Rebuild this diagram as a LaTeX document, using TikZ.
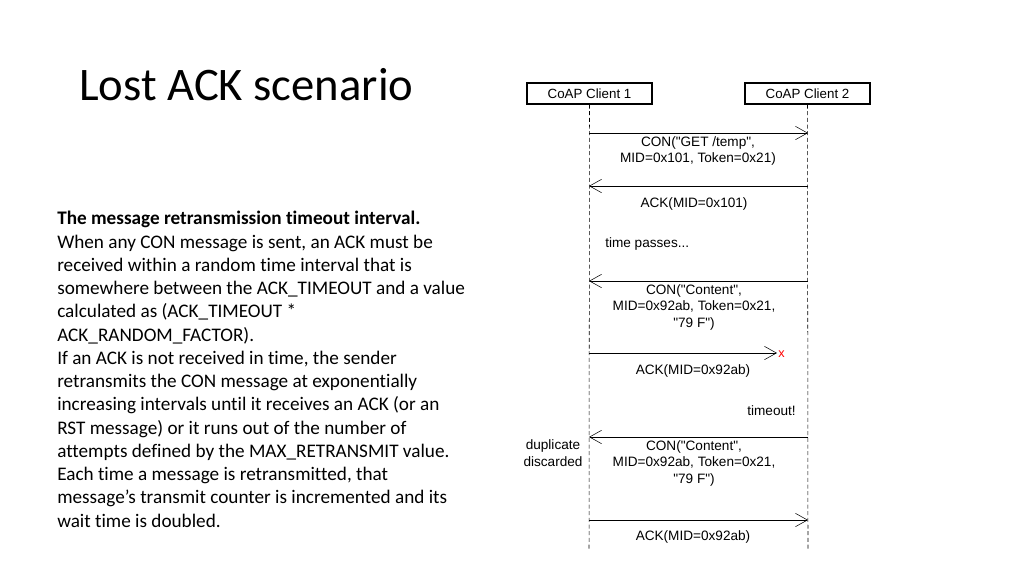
\documentclass[tikz,border=0pt]{standalone}
\usepackage{fontspec}
\setmainfont[Ligatures=NoCommon]{Carlito}
\newfontfamily\diagfont{Liberation Sans}
\usetikzlibrary{arrows.meta}
\begin{document}
\begin{tikzpicture}[x=0.75pt,y=-0.75pt,
  actor/.style={draw,thick,fill=white,minimum width=125*0.75pt,minimum height=21*0.75pt,inner sep=0pt,font=\diagfont\fontsize{10}{11}\selectfont},
  life/.style={densely dashed,thin},
  msg/.style={thin,-{Straight Barb[length=9pt,width=10pt]}},
  lbl/.style={font=\diagfont\fontsize{10.2}{12.4}\selectfont,align=center,inner sep=0pt,anchor=north}]
\useasboundingbox (0,0) rectangle (1024,576);
\node[anchor=base west,inner sep=0pt,font=\fontsize{35}{40}\selectfont] (title) at (79,100) {Lost ACK scenario};
\node[anchor=north west,align=left,inner sep=0pt,font=\fontsize{14.4}{17.45}\selectfont] (body) at (57,211) {%
\textbf{The message retransmission timeout interval.}\\
When any CON message is sent, an ACK must be\\
received within a random time interval that is\\
somewhere between the ACK\_TIMEOUT and a value\\
calculated as (ACK\_TIMEOUT *\\
ACK\_RANDOM\_FACTOR).\\
If an ACK is not received in time, the sender\\
retransmits the CON message at exponentially\\
increasing intervals until it receives an ACK (or an\\
RST message) or it runs out of the number of\\
attempts defined by the MAX\_RETRANSMIT value.\\
Each time a message is retransmitted, that\\
message’s transmit counter is incremented and its\\
wait time is doubled.};
\node[actor] (c1) at (589.5,93.5) {CoAP Client 1};
\node[actor] (c2) at (807.5,93.5) {CoAP Client 2};
\coordinate (e1) at (589,550);
\coordinate (e2) at (808,550);
\draw[life] (c1.south) -- (e1);
\draw[life] (c2.south) -- (e2);
\coordinate (a1) at (589,133); \coordinate (b1) at (808,133);
\draw[msg] (a1) -- (b1);
\node[lbl] (l1) at (698,136) {CON("GET /temp",\\MID=0x101, Token=0x21)};
\coordinate (a2) at (589,186); \coordinate (b2) at (808,186);
\draw[msg] (b2) -- (a2);
\node[lbl] (l2) at (694,197) {ACK(MID=0x101)};
\node[font=\diagfont\fontsize{10.2}{12}\selectfont,anchor=west,inner sep=0pt] (tp) at (605,244) {time passes...};
\coordinate (a3) at (589,281); \coordinate (b3) at (808,281);
\draw[msg] (b3) -- (a3);
\node[lbl] (l3) at (694,284) {CON("Content",\\MID=0x92ab, Token=0x21,\\"79 F")};
\coordinate (a4) at (589,353); \coordinate (b4) at (777,353);
\draw[msg] (a4) -- (b4);
\node[text=red,font=\diagfont\fontsize{9.5}{10}\selectfont,inner sep=0pt] (x) at (781.5,354) {x};
\node[lbl] (l4) at (693,364) {ACK(MID=0x92ab)};
\node[font=\diagfont\fontsize{10.2}{12}\selectfont,anchor=east,inner sep=0pt] (to) at (796,411) {timeout!};
\coordinate (a5) at (589,437); \coordinate (b5) at (808,437);
\draw[msg] (b5) -- (a5);
\node[lbl] (l5) at (694,440) {CON("Content",\\MID=0x92ab, Token=0x21,\\"79 F")};
\node[font=\diagfont\fontsize{10.2}{12.2}\selectfont,align=center,inner sep=0pt] (dup) at (553,453) {duplicate\\discarded};
\coordinate (a6) at (589,520); \coordinate (b6) at (808,520);
\draw[msg] (a6) -- (b6);
\node[lbl] (l6) at (693,530) {ACK(MID=0x92ab)};
\end{tikzpicture}
\end{document}
